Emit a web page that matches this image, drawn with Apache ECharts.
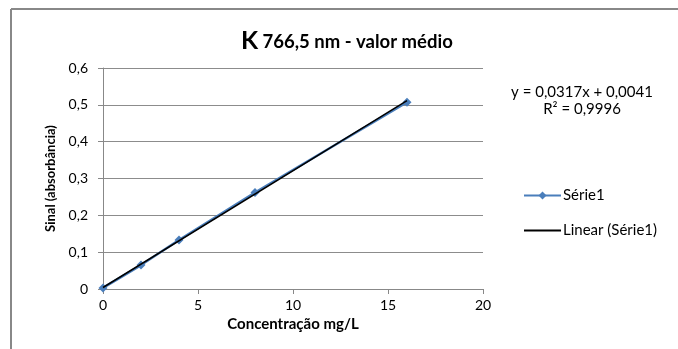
<!DOCTYPE html>
<html>
<head>
<meta charset="utf-8">
<script src="https://cdn.jsdelivr.net/npm/echarts@6/dist/echarts.min.js"></script>
<style>
  html, body { margin: 0; padding: 0; background: #fff; }
  #chart { width: 678px; height: 349px; }
</style>
</head>
<body>
<div id="chart"></div>
<script>
// dados
var concentracao = [0, 2, 4, 8, 16]
var sinal = [0.003, 0.065, 0.133, 0.262, 0.507]
// linha de tendência (Excel): extremos
var trendX = [0, 16]
var trendY = [0.0041, 0.5113]
var equacao = ['y = 0,0317x + 0,0041', 'R² = 0,9996']

var font = 'Lato, "Open Sans", sans-serif'
function virgula(v) {
  return String(v).replace('.', ',')
}

var myChart = echarts.init(document.getElementById('chart'))

var option = {
  animation: false,
  backgroundColor: '#fff',
  textStyle: { fontFamily: font },
  title: {
    text: '{k|K} {t|766,5 nm - valor médio}',
    left: 236,
    top: 23,
    textStyle: {
      fontWeight: 'bold',
      rich: {
        k: { fontSize: 25, fontWeight: 'bold', color: '#000', fontFamily: font },
        t: { fontSize: 18.5, fontWeight: 'bold', color: '#000', fontFamily: font, padding: [4, 0, 0, 0] },
      },
    },
  },
  grid: { left: 103, right: 195, top: 68, bottom: 60 },
  legend: {
    orient: 'vertical',
    left: 518,
    top: 183,
    itemWidth: 37,
    itemHeight: 10,
    itemGap: 20,
    textStyle: { fontSize: 15, color: '#000', fontFamily: font, padding: [0, 0, 0, -3] },
    data: [
      { name: 'Série1' },
      { name: 'Linear (Série1)', itemStyle: { opacity: 0 } },
    ],
  },
  xAxis: {
    type: 'value',
    min: 0,
    max: 20,
    interval: 5,
    name: 'Concentração mg/L',
    nameLocation: 'middle',
    nameGap: 28,
    nameTextStyle: { fontSize: 15, fontWeight: 'bold', color: '#000' },
    axisLine: { lineStyle: { color: '#888' } },
    axisTick: { show: true, length: 5, lineStyle: { color: '#888' } },
    axisLabel: { fontSize: 14, color: '#000', margin: 9 },
    splitLine: { show: false },
  },
  yAxis: {
    type: 'value',
    min: 0,
    max: 0.6,
    interval: 0.1,
    name: 'Sinal (absorbância)',
    nameLocation: 'middle',
    nameGap: 44,
    nameTextStyle: { fontSize: 13, fontWeight: 'bold', color: '#000' },
    axisLine: { show: true, lineStyle: { color: '#888' } },
    axisTick: { show: true, length: 5, lineStyle: { color: '#888' } },
    axisLabel: {
      fontSize: 14,
      color: '#000',
      margin: 15,
      formatter: function (v) {
        return virgula(Math.round(v * 10) / 10)
      },
    },
    splitLine: { show: true, lineStyle: { color: '#8c8c8c', width: 1 } },
  },
  graphic: [
    {
      type: 'line',
      shape: { x1: 11, y1: 9, x2: 11, y2: 349 },
      style: { stroke: '#888', lineWidth: 2 },
    },
    {
      type: 'line',
      shape: { x1: 11, y1: 9, x2: 678, y2: 9 },
      style: { stroke: '#888', lineWidth: 2 },
    },
    {
      type: 'text',
      x: 582,
      y: 84,
      style: {
        text: equacao.join('\n'),
        align: 'center',
        fontSize: 15,
        lineHeight: 17,
        fill: '#000',
        fontFamily: font,
      },
    },
  ],
  series: [
    {
      name: 'Série1',
      type: 'line',
      symbol: 'diamond',
      symbolSize: 9,
      lineStyle: { color: '#4a7ebb', width: 2.5 },
      itemStyle: { color: '#4a7ebb' },
      data: concentracao.map(function (x, i) {
        return [x, sinal[i]]
      }),
      z: 2,
    },
    {
      name: 'Linear (Série1)',
      type: 'line',
      symbol: 'none',
      lineStyle: { color: '#000', width: 1.5 },
      itemStyle: { color: '#000' },
      data: trendX.map(function (x, i) {
        return [x, trendY[i]]
      }),
      z: 3,
    },
  ],
}

myChart.setOption(option)
</script>
</body>
</html>
